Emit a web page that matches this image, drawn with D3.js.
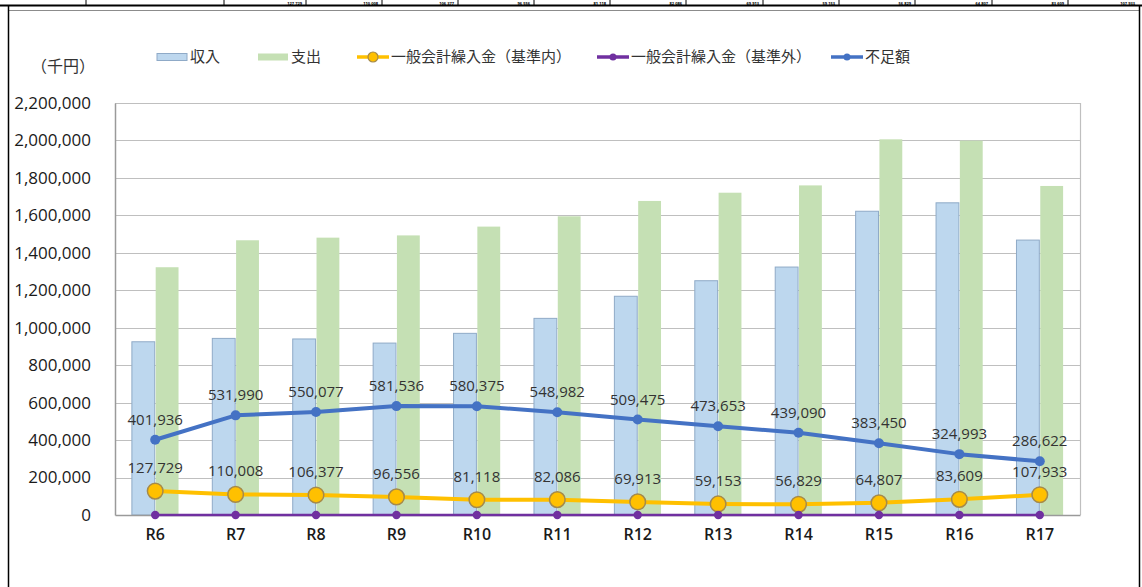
<!DOCTYPE html>
<html lang="ja">
<head>
<meta charset="utf-8">
<script src="https://cdn.jsdelivr.net/npm/d3@7"></script>
<style>
  html, body { margin: 0; padding: 0; background: #fff; }
  svg { display: block; }
</style>
</head>
<body>
<svg id="chart" width="1142" height="587"></svg>
<script>
// ---- data (千円) ----
const categories = ["R6", "R7", "R8", "R9", "R10", "R11", "R12", "R13", "R14", "R15", "R16", "R17"];
const income      = [925000, 943000, 940000, 918000, 970000, 1050000, 1168000, 1251000, 1324000, 1622000, 1667000, 1468000];
const expenditure = [1323000, 1467000, 1481000, 1493000, 1540000, 1595000, 1677000, 1721000, 1760000, 2006000, 1999000, 1757000];
const transferIn  = [127729, 110008, 106377, 96556, 81118, 82086, 69913, 59153, 56829, 64807, 83609, 107933];
const transferOut = [0, 0, 0, 0, 0, 0, 0, 0, 0, 0, 0, 0];
const shortfall   = [401936, 531990, 550077, 581536, 580375, 548982, 509475, 473653, 439090, 383450, 324993, 286622];
const yTicks = [0, 200000, 400000, 600000, 800000, 1000000, 1200000, 1400000, 1600000, 1800000, 2000000, 2200000];
const legendLabels = ["収入", "支出", "一般会計繰入金（基準内）", "一般会計繰入金（基準外）", "不足額"];
const unitLabel = "（千円）";

const numFont = "'Open Sans', 'Liberation Sans', sans-serif";
const jpFont = "'Noto Sans CJK JP', 'Noto Sans', sans-serif";
const fmt = d3.format(",");

const svg = d3.select("#chart");

// ---- plot geometry ----
const plot = { left: 115, right: 1080, top: 103, bottom: 515 };

const x = d3.scaleBand().domain(categories)
  .range([plot.left, plot.right]).paddingInner(0.42).paddingOuter(0.21);
const xSub = d3.scaleBand().domain(["income", "expenditure"])
  .range([0, x.bandwidth()]).paddingInner(0.04);
const y = d3.scaleLinear().domain([0, 2200000]).range([plot.bottom, plot.top]);
const cx = c => x(c) + x.bandwidth() / 2;

// ---- page frame: the table row above the chart, and the chart border ----
const strip = svg.append("g");
const cellEdges = [86, 224, 306, 382, 458, 534, 610, 686, 763, 839, 915, 992, 1068];
strip.selectAll("line.cell").data(cellEdges).join("line")
  .attr("x1", d => d).attr("x2", d => d).attr("y1", 0).attr("y2", 5)
  .attr("stroke", "#000").attr("stroke-width", 1);
strip.selectAll("text").data(transferIn).join("text")
  .attr("x", (d, i) => (i < 11 ? cellEdges[i + 2] : 1139) - 4)
  .attr("y", 4.5)
  .attr("text-anchor", "end")
  .attr("font-family", numFont).attr("font-size", 4).attr("font-weight", 700).attr("fill", "#000")
  .text(d => fmt(d));
svg.append("line").attr("x1", 0).attr("x2", 1142).attr("y1", 5.5).attr("y2", 5.5)
  .attr("stroke", "#000").attr("stroke-width", 2);
svg.append("line").attr("x1", 9).attr("x2", 1139).attr("y1", 10.5).attr("y2", 10.5)
  .attr("stroke", "#8c8c8c").attr("stroke-width", 1);
svg.append("line").attr("x1", 8.5).attr("x2", 8.5).attr("y1", 5).attr("y2", 587)
  .attr("stroke", "#000").attr("stroke-width", 1.5);
svg.append("line").attr("x1", 1139.5).attr("x2", 1139.5).attr("y1", 5).attr("y2", 587)
  .attr("stroke", "#000").attr("stroke-width", 1.5);

// ---- gridlines ----
svg.append("g").selectAll("line").data(yTicks.slice(1)).join("line")
  .attr("x1", plot.left).attr("x2", plot.right)
  .attr("y1", d => Math.round(y(d)) + 0.5).attr("y2", d => Math.round(y(d)) + 0.5)
  .attr("stroke", "#bfbfbf").attr("stroke-width", 1.2);
// plot area right border
svg.append("line").attr("x1", plot.right + 0.5).attr("x2", plot.right + 0.5)
  .attr("y1", plot.top).attr("y2", plot.bottom)
  .attr("stroke", "#bfbfbf").attr("stroke-width", 1.2);

// ---- bars ----
const barRows = categories.map((c, i) => ({ c, income: income[i], expenditure: expenditure[i] }));
const groups = svg.append("g").selectAll("g").data(barRows).join("g")
  .attr("transform", d => `translate(${x(d.c)},0)`);
groups.append("rect")
  .attr("x", xSub("income")).attr("width", xSub.bandwidth())
  .attr("y", d => y(d.income)).attr("height", d => y(0) - y(d.income))
  .attr("fill", "#bdd7ee").attr("stroke", "#8faac7").attr("stroke-width", 1);
groups.append("rect")
  .attr("x", xSub("expenditure")).attr("width", xSub.bandwidth())
  .attr("y", d => y(d.expenditure)).attr("height", d => y(0) - y(d.expenditure))
  .attr("fill", "#c5e0b4");

// ---- axes ----
const yAxis = svg.append("g").attr("transform", `translate(${plot.left},0)`)
  .call(d3.axisLeft(y).tickValues(yTicks).tickFormat(fmt).tickSize(0).tickPadding(24));
yAxis.select(".domain").attr("stroke", "#9a9a9a").attr("stroke-width", 1.5);
yAxis.selectAll("text").attr("font-family", numFont).attr("font-size", 17).attr("fill", "#1a1a1a");

const xAxis = svg.append("g").attr("transform", `translate(0,${plot.bottom})`)
  .call(d3.axisBottom(x).tickSize(0).tickPadding(14));
xAxis.select(".domain").attr("stroke", "#9a9a9a").attr("stroke-width", 1.5);
xAxis.selectAll("text").attr("font-family", numFont).attr("font-size", 16)
  .attr("font-weight", 600).attr("fill", "#1a1a1a");

// ---- lines ----
const lineGen = d3.line().x(d => cx(d.c)).y(d => y(d.v));
const series = [
  { key: "out", vals: transferOut, color: "#7030a0", width: 2.5, r: 4.2, stroke: "none", label: false },
  { key: "in", vals: transferIn, color: "#ffc000", width: 4, r: 7.8, stroke: "#a58a4a", label: true, dy: -18 },
  { key: "short", vals: shortfall, color: "#4472c4", width: 4, r: 5, stroke: "none", label: true, dy: -15 }
];
// draw order: shortfall, transfer-in, then purple baseline on top
[series[2], series[1], series[0]].forEach(s => {
  const pts = categories.map((c, i) => ({ c, v: s.vals[i] }));
  const g = svg.append("g");
  g.append("path").datum(pts).attr("d", lineGen)
    .attr("fill", "none").attr("stroke", s.color).attr("stroke-width", s.width)
    .attr("stroke-linejoin", "round");
  g.selectAll("circle").data(pts).join("circle")
    .attr("cx", d => cx(d.c)).attr("cy", d => y(d.v)).attr("r", s.r)
    .attr("fill", s.color).attr("stroke", s.stroke).attr("stroke-width", 1.5);
  if (s.label) {
    g.selectAll("text").data(pts).join("text")
      .attr("x", d => cx(d.c)).attr("y", d => y(d.v) + s.dy)
      .attr("text-anchor", "middle")
      .attr("font-family", numFont).attr("font-size", 15).attr("fill", "#333")
      .text(d => fmt(d.v));
  }
});

// ---- unit label ----
svg.append("text").attr("x", 31).attr("y", 72)
  .attr("font-family", jpFont).attr("font-size", 16).attr("fill", "#333")
  .text(unitLabel);

// ---- legend ----
const legendY = 57;
const leg = svg.append("g").attr("font-family", jpFont).attr("font-size", 15).attr("fill", "#333");
const legendItems = [
  { type: "rect", x: 157, fill: "#bdd7ee", stroke: "#8faac7" },
  { type: "rect", x: 258, fill: "#c5e0b4", stroke: "none" },
  { type: "line", x: 357, color: "#ffc000", r: 5, stroke: "#a58a4a" },
  { type: "line", x: 597, color: "#7030a0", r: 3.5, stroke: "none" },
  { type: "line", x: 831, color: "#4472c4", r: 3.5, stroke: "none" }
];
legendItems.forEach((it, i) => {
  if (it.type === "rect") {
    leg.append("rect").attr("x", it.x).attr("y", legendY - 3.5).attr("width", 30).attr("height", 7)
      .attr("fill", it.fill).attr("stroke", it.stroke);
  } else {
    leg.append("line").attr("x1", it.x).attr("x2", it.x + 32)
      .attr("y1", legendY).attr("y2", legendY)
      .attr("stroke", it.color).attr("stroke-width", 3.5);
    leg.append("circle").attr("cx", it.x + 16).attr("cy", legendY).attr("r", it.r)
      .attr("fill", it.color).attr("stroke", it.stroke).attr("stroke-width", 1.2);
  }
  leg.append("text").attr("x", it.x + (it.type === "rect" ? 33 : 34)).attr("y", legendY)
    .attr("dy", "0.36em").text(legendLabels[i]);
});
</script>
</body>
</html>
